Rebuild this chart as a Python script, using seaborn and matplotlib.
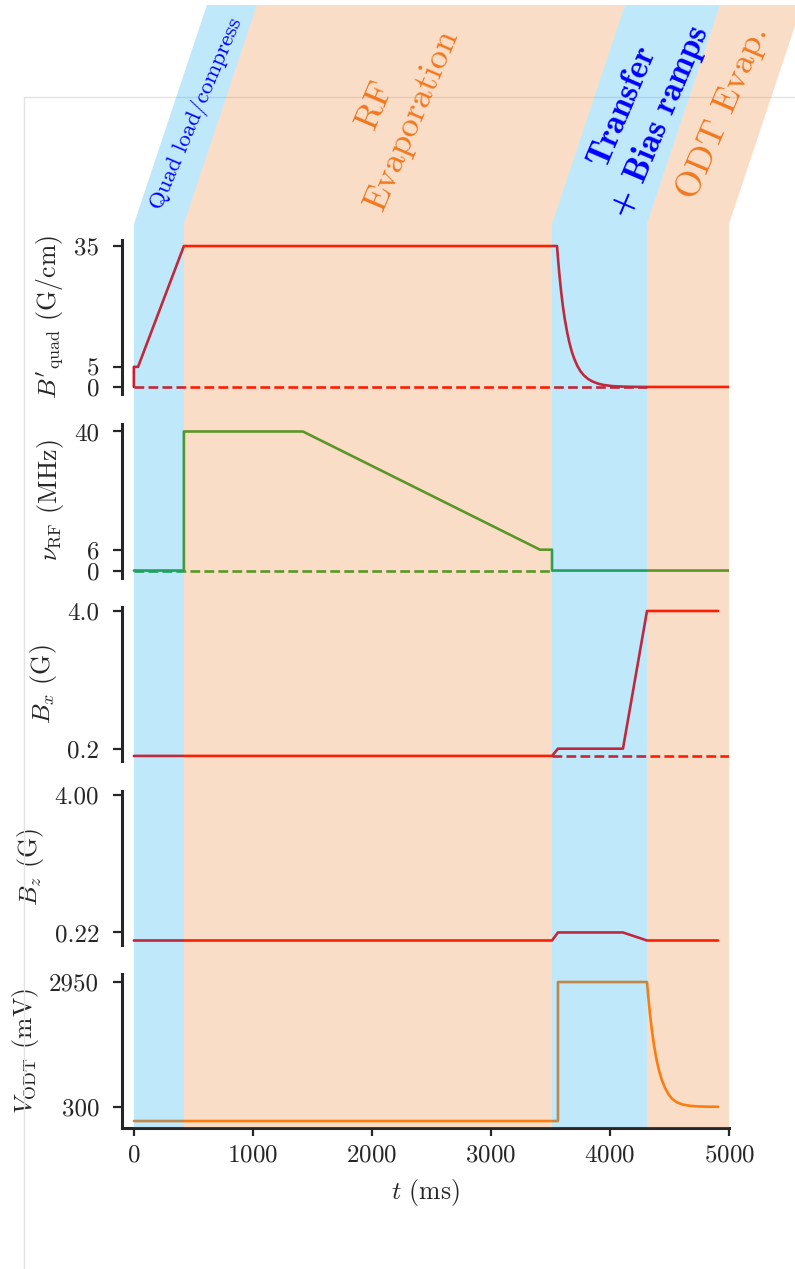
import matplotlib
matplotlib.use("Agg")
import matplotlib.pyplot as plt
from matplotlib.patches import Polygon
from matplotlib.lines import Line2D
import seaborn as sns

# Sequence phases (ms)
phase_edges = [0, 420, 3513, 4311, 5000]
phase_colors = ["#00a4f3", "#ef7a1f", "#00a4f3", "#ef7a1f"]
phase_labels = ["Quad load/compress", "RF\nEvaporation", "Transfer\n+ Bias ramps", "ODT Evap."]

# Quadrupole gradient B'quad (G/cm)
quad_t = [0, 0, 35, 420, 3555, 3565, 3575, 3590, 3605, 3620, 3640, 3660, 3680, 3700, 3725,
          3750, 3780, 3815, 3850, 3900, 3950, 4020, 4100, 4200, 4311, 5000]
quad_v = [0, 5, 5, 35, 35, 31.3, 27.9, 23.6, 19.9, 16.9, 13.6, 10.9, 8.7, 7.0, 5.3,
          4.0, 2.9, 2.0, 1.4, 0.82, 0.47, 0.21, 0.09, 0.03, 0, 0]
quad_ref_t = [0, 4311]
quad_ref_v = [0, 0]

# RF frequency (MHz)
rf_t = [0, 420, 420, 1420, 3412, 3513, 3513, 5000]
rf_v = [0, 0, 40, 40, 6, 6, 0, 0]
rf_ref_t = [0, 3513]
rf_ref_v = [0, 0]

# Bias fields (G)
bx_t = [0, 3513, 3563, 4109, 4311, 4908]
bx_v = [0, 0, 0.2, 0.2, 4.0, 4.0]
bx_ref_t = [3513, 5000]
bx_ref_v = [0, 0]

bz_t = [0, 3513, 3563, 4109, 4311, 4908]
bz_v = [0, 0, 0.22, 0.22, 0, 0]

# ODT power setpoint (mV)
odt_t = [0, 3563, 3563, 4311, 4321, 4336, 4351, 4371, 4391, 4411, 4436, 4461, 4491,
         4521, 4561, 4611, 4671, 4741, 4821, 4908]
odt_v = [0, 0, 2950, 2950, 2659, 2275, 1950, 1590, 1306, 1080, 870, 712, 570,
         475, 397, 350, 323, 310, 304, 302]

panels = [
    (quad_t, quad_v, quad_ref_t, quad_ref_v, "red", r"$B'_{\rm quad}$ (G/cm)", [0, 5, 35], ["0", "5", "35"], (-1.75, 36.5)),
    (rf_t, rf_v, rf_ref_t, rf_ref_v, "#2ca02c", r"$\nu_{\rm RF}$ (MHz)", [0, 6, 40], ["0", "6", "40"], (-2.0, 42.3)),
    (bx_t, bx_v, bx_ref_t, bx_ref_v, "red", r"$B_x$ (G)", [0.2, 4.0], ["0.2", "4.0"], (-0.14, 4.11)),
    (bz_t, bz_v, None, None, "red", r"$B_z$ (G)", [0.22, 4.0], ["0.22", "4.00"], (-0.11, 4.11)),
    (odt_t, odt_v, None, None, "#ff7f0e", r"$V_{\rm ODT}$ (mV)", [300, 2950], ["300", "2950"], (-148, 3120)),
]

sns.set_style("ticks")
plt.rcParams["font.family"] = ["cmr10"]
plt.rcParams["mathtext.fontset"] = "cm"
plt.rcParams["axes.formatter.use_mathtext"] = True
plt.rcParams["axes.unicode_minus"] = False

W, H = 795, 1269
fig = plt.figure(figsize=(W / 100, H / 100), dpi=100)

left_px, right_px = 122, 729
ax_h = 154
tops = [240, 423.5, 607, 790.5, 974]
axes = []
for i, (t, v, rt, rv, c, lab, ticks, tlabs, ylim) in enumerate(panels):
    ax = fig.add_axes([left_px / W, 1 - (tops[i] + ax_h) / H, (right_px - left_px) / W, ax_h / H])
    ax.set_facecolor("none")
    if rt is not None:
        sns.lineplot(x=rt, y=rv, ax=ax, color=c, lw=1.9, linestyle="--", sort=False, estimator=None)
    sns.lineplot(x=t, y=v, ax=ax, color=c, lw=1.9, sort=False, estimator=None)
    ax.set_xlim(-100, 5000)
    ax.set_ylim(*ylim)
    ax.set_yticks(ticks, tlabs)
    ax.set_ylabel(lab, fontsize=18.5, labelpad=6)
    ax.tick_params(axis="y", labelsize=18, length=6.5, width=1.6, pad=10)
    ax.spines[["top", "right"]].set_visible(False)
    ax.spines["left"].set_linewidth(2.2)
    if i < len(panels) - 1:
        ax.spines["bottom"].set_visible(False)
        ax.set_xticks([])
        ax.set_xlabel("")
    else:
        ax.spines["bottom"].set_linewidth(2.2)
        ax.set_xticks([0, 1000, 2000, 3000, 4000, 5000])
        ax.tick_params(axis="x", labelsize=18, length=6, width=1.6, pad=6)
        ax.set_xlabel(r"$t$ (ms)", fontsize=18.5, labelpad=7)
    axes.append(ax)

# faint frame
fig.add_artist(Line2D([24 / W, 24 / W], [0, 1 - 97 / H], color="#e3e3e3", lw=1, zorder=3))
fig.add_artist(Line2D([24 / W, 1], [1 - 97 / H, 1 - 97 / H], color="#e3e3e3", lw=1, zorder=3))

# phase bands running through all panels and slanting up above them
y_bot = 1 - (tops[-1] + ax_h) / H
y_kink = 1 - 224 / H
y_top = 1 - 5 / H
dx = 73 / W
to_fig = fig.transFigure.inverted()
xs = [to_fig.transform(axes[0].transData.transform((e, 0)))[0] for e in phase_edges]
for i, c in enumerate(phase_colors):
    xl, xr = xs[i], xs[i + 1]
    verts = [(xl, y_bot), (xr, y_bot), (xr, y_kink), (xr + dx, y_top), (xl + dx, y_top), (xl, y_kink)]
    fig.add_artist(Polygon(verts, closed=True, transform=fig.transFigure,
                           facecolor=c, alpha=0.25, lw=0, zorder=5))

label_pos = [(197, 114), (394, 112), (642, 114), (723, 112)]
label_style = [
    ("blue", 16.5, "cmr10"),
    ("#f07820", 26, "cmr10"),
    ("blue", 24.5, "cmb10"),
    ("#f07820", 26, "cmr10"),
]
for (px, py), txt, (c, fs, fam) in zip(label_pos, phase_labels, label_style):
    fig.text(px / W, 1 - py / H, txt, rotation=67, rotation_mode="anchor",
             ha="center", va="center", multialignment="center", linespacing=1.35,
             color=c, fontsize=fs, family=fam, zorder=6)

fig.savefig("out.png", dpi=100)
